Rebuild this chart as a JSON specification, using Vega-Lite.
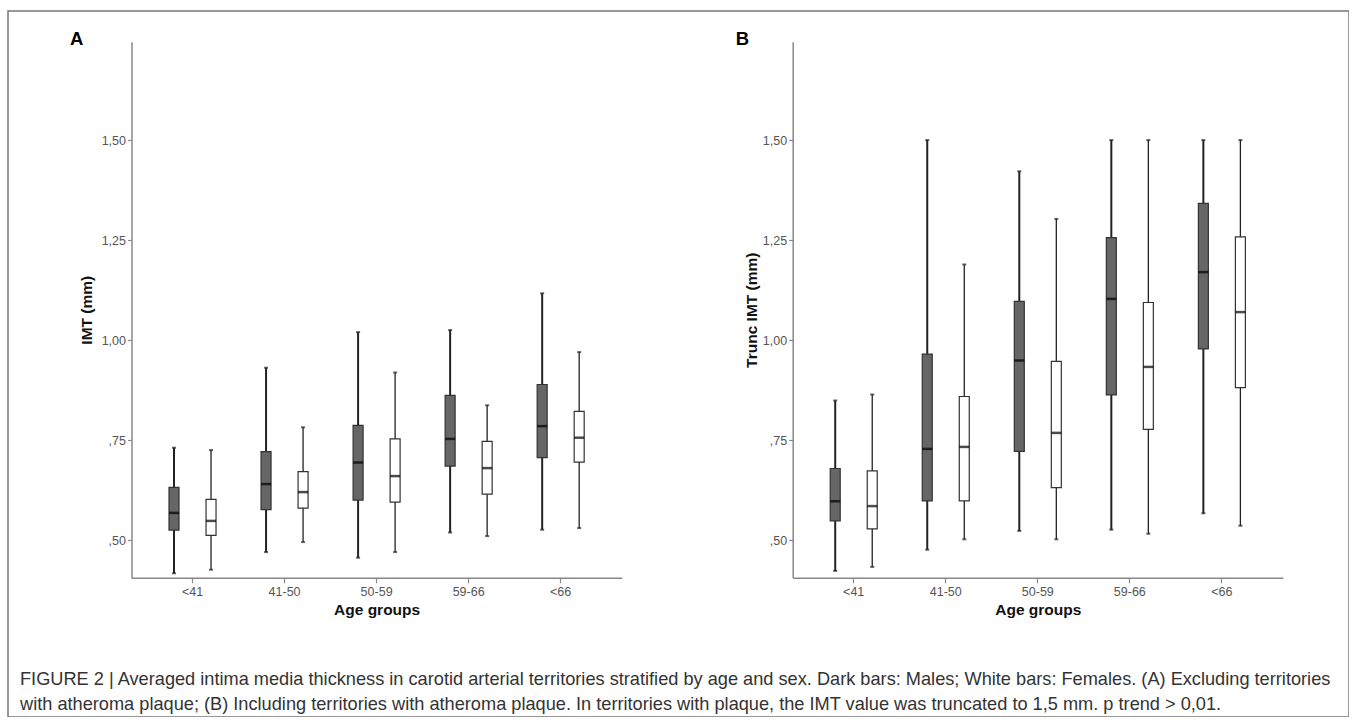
{
  "$schema": "https://vega.github.io/schema/vega-lite/v6.json",
  "padding": {"left": 8, "top": 11, "right": 0, "bottom": 0},
  "background": "white",
  "width": 1341,
  "height": 706,
  "view": {"stroke": "#777", "strokeWidth": 1.5},
  "config": {
    "font": "Liberation Sans",
    "axis": {
      "grid": false,
      "domainColor": "#888",
      "domainWidth": 1.5,
      "tickColor": "#888",
      "tickWidth": 1.2,
      "labelColor": "#555",
      "labelFontSize": 12.5,
      "labelFont": "Liberation Sans",
      "titleFont": "Liberation Sans",
      "titleFontWeight": "bold",
      "titleFontSize": 15.5,
      "titleColor": "#111"
    },
    "axisY": {"tickSize": 4, "labelPadding": 2, "titlePadding": 7},
    "axisX": {"tickSize": 5, "labelPadding": 3, "titlePadding": 4, "labelAngle": 0}
  },
  "title": {
    "text": [
      "FIGURE 2 | Averaged intima media thickness in carotid arterial territories stratified by age and sex. Dark bars: Males; White bars: Females. (A) Excluding territories",
      "with atheroma plaque; (B) Including territories with atheroma plaque. In territories with plaque, the IMT value was truncated to 1,5 mm. p trend > 0,01."
    ],
    "orient": "bottom",
    "anchor": "start",
    "frame": "group",
    "offset": -46,
    "dx": 12,
    "fontSize": 18.2,
    "fontWeight": "normal",
    "color": "#333",
    "lineHeight": 25,
    "font": "Liberation Sans"
  },
  "datasets": {
    "A": [
      {"group": "<41", "sex": "M", "low": 0.417, "q1": 0.525, "median": 0.568, "q3": 0.632, "high": 0.731},
      {"group": "<41", "sex": "F", "low": 0.426, "q1": 0.512, "median": 0.548, "q3": 0.602, "high": 0.725},
      {"group": "41-50", "sex": "M", "low": 0.470, "q1": 0.576, "median": 0.640, "q3": 0.721, "high": 0.931},
      {"group": "41-50", "sex": "F", "low": 0.495, "q1": 0.580, "median": 0.620, "q3": 0.671, "high": 0.782},
      {"group": "50-59", "sex": "M", "low": 0.456, "q1": 0.600, "median": 0.694, "q3": 0.787, "high": 1.020},
      {"group": "50-59", "sex": "F", "low": 0.470, "q1": 0.595, "median": 0.660, "q3": 0.753, "high": 0.919},
      {"group": "59-66", "sex": "M", "low": 0.519, "q1": 0.685, "median": 0.753, "q3": 0.862, "high": 1.025},
      {"group": "59-66", "sex": "F", "low": 0.510, "q1": 0.615, "median": 0.680, "q3": 0.747, "high": 0.837},
      {"group": "<66", "sex": "M", "low": 0.526, "q1": 0.706, "median": 0.785, "q3": 0.889, "high": 1.117},
      {"group": "<66", "sex": "F", "low": 0.530, "q1": 0.695, "median": 0.756, "q3": 0.822, "high": 0.970}
    ],
    "B": [
      {"group": "<41", "sex": "M", "low": 0.423, "q1": 0.548, "median": 0.597, "q3": 0.679, "high": 0.849},
      {"group": "<41", "sex": "F", "low": 0.433, "q1": 0.528, "median": 0.585, "q3": 0.673, "high": 0.864},
      {"group": "41-50", "sex": "M", "low": 0.476, "q1": 0.598, "median": 0.728, "q3": 0.965, "high": 1.50},
      {"group": "41-50", "sex": "F", "low": 0.502, "q1": 0.598, "median": 0.733, "q3": 0.859, "high": 1.189},
      {"group": "50-59", "sex": "M", "low": 0.523, "q1": 0.722, "median": 0.949, "q3": 1.097, "high": 1.422},
      {"group": "50-59", "sex": "F", "low": 0.502, "q1": 0.631, "median": 0.768, "q3": 0.947, "high": 1.303},
      {"group": "59-66", "sex": "M", "low": 0.526, "q1": 0.863, "median": 1.103, "q3": 1.256, "high": 1.50},
      {"group": "59-66", "sex": "F", "low": 0.516, "q1": 0.777, "median": 0.933, "q3": 1.094, "high": 1.50},
      {"group": "<66", "sex": "M", "low": 0.567, "q1": 0.978, "median": 1.170, "q3": 1.342, "high": 1.50},
      {"group": "<66", "sex": "F", "low": 0.536, "q1": 0.881, "median": 1.070, "q3": 1.258, "high": 1.50}
    ],
    "letters": [
      {"label": "A"},
      {"label": "B"}
    ]
  },
  "resolve": {
    "scale": {"x": "independent", "y": "independent", "xOffset": "independent"},
    "axis": {"x": "independent", "y": "independent"}
  },
  "layer": [
    {
      "data": {"name": "A"},
      "encoding": {
        "x": {"field": "group", "type": "nominal", "sort": ["<41", "41-50", "50-59", "59-66", "<66"], "scale": {"range": [123.5, 613.7], "paddingInner": 0, "paddingOuter": 0.163}, "axis": {"title": "Age groups", "orient": "bottom", "offset": -139.3}},
        "xOffset": {"field": "sex", "type": "nominal", "sort": ["M", "F"], "scale": {"paddingInner": 0.73, "paddingOuter": 0.608}}
      },
      "layer": [
        {
          "mark": {"type": "rule", "color": "#222"},
          "encoding": {
            "y": {"field": "low", "type": "quantitative", "title": "IMT (mm)", "scale": {"domain": [0.406, 1.746], "range": [566.7, 30.7], "nice": false, "zero": false}, "axis": {"orient": "left", "offset": -123.5, "values": [0.5, 0.75, 1, 1.25, 1.5], "labelExpr": "datum.value < 1 ? ',' + format(datum.value * 100, '.0f') : replace(format(datum.value, '.2f'), '.', ',')"}},
            "y2": {"field": "high"},
            "strokeWidth": {"field": "sex", "type": "nominal", "scale": {"domain": ["M", "F"], "range": [2, 1.3]}, "legend": null}
          }
        },
        {
          "mark": {"type": "bar", "stroke": "#333", "strokeWidth": 1.2},
          "encoding": {
            "y": {"field": "q1", "type": "quantitative", "title": "IMT (mm)"},
            "y2": {"field": "q3"},
            "fill": {"field": "sex", "type": "nominal", "scale": {"domain": ["M", "F"], "range": ["#666666", "#ffffff"]}, "legend": null}
          }
        },
        {
          "mark": {"type": "tick", "color": "#000", "size": 10, "thickness": 2.5},
          "encoding": {"y": {"field": "median", "type": "quantitative", "title": "IMT (mm)"}}
        },
        {
          "mark": {"type": "tick", "color": "#222", "size": 4, "thickness": 2},
          "encoding": {"y": {"field": "low", "type": "quantitative", "title": "IMT (mm)"}}
        },
        {
          "mark": {"type": "tick", "color": "#222", "size": 4, "thickness": 2},
          "encoding": {"y": {"field": "high", "type": "quantitative", "title": "IMT (mm)"}}
        }
      ]
    },
    {
      "data": {"name": "B"},
      "encoding": {
        "x": {"field": "group", "type": "nominal", "sort": ["<41", "41-50", "50-59", "59-66", "<66"], "scale": {"range": [784.7, 1274.9], "paddingInner": 0, "paddingOuter": 0.163}, "axis": {"title": "Age groups", "orient": "bottom", "offset": -139.3}},
        "xOffset": {"field": "sex", "type": "nominal", "sort": ["M", "F"], "scale": {"paddingInner": 0.73, "paddingOuter": 0.608}}
      },
      "layer": [
        {
          "mark": {"type": "rule", "color": "#222"},
          "encoding": {
            "y": {"field": "low", "type": "quantitative", "title": "Trunc IMT (mm)", "scale": {"domain": [0.406, 1.746], "range": [566.7, 30.7], "nice": false, "zero": false}, "axis": {"orient": "left", "offset": -784.7, "titlePadding": 3, "values": [0.5, 0.75, 1, 1.25, 1.5], "labelExpr": "datum.value < 1 ? ',' + format(datum.value * 100, '.0f') : replace(format(datum.value, '.2f'), '.', ',')"}},
            "y2": {"field": "high"},
            "strokeWidth": {"field": "sex", "type": "nominal", "scale": {"domain": ["M", "F"], "range": [2, 1.3]}, "legend": null}
          }
        },
        {
          "mark": {"type": "bar", "stroke": "#333", "strokeWidth": 1.2},
          "encoding": {
            "y": {"field": "q1", "type": "quantitative", "title": "Trunc IMT (mm)"},
            "y2": {"field": "q3"},
            "fill": {"field": "sex", "type": "nominal", "scale": {"domain": ["M", "F"], "range": ["#666666", "#ffffff"]}, "legend": null}
          }
        },
        {
          "mark": {"type": "tick", "color": "#000", "size": 10, "thickness": 2.5},
          "encoding": {"y": {"field": "median", "type": "quantitative", "title": "Trunc IMT (mm)"}}
        },
        {
          "mark": {"type": "tick", "color": "#222", "size": 4, "thickness": 2},
          "encoding": {"y": {"field": "low", "type": "quantitative", "title": "Trunc IMT (mm)"}}
        },
        {
          "mark": {"type": "tick", "color": "#222", "size": 4, "thickness": 2},
          "encoding": {"y": {"field": "high", "type": "quantitative", "title": "Trunc IMT (mm)"}}
        }
      ]
    },
    {
      "data": {"name": "letters"},
      "mark": {"type": "text", "align": "left", "baseline": "alphabetic", "fontSize": 18.5, "fontWeight": "bold", "color": "#000", "font": "Liberation Sans"},
      "encoding": {
        "text": {"field": "label", "type": "nominal"},
        "x": {"field": "label", "type": "nominal", "scale": {"type": "point", "domain": ["A", "B"], "range": [62, 727.7], "padding": 0}, "axis": null},
        "y": {"field": "label", "type": "nominal", "scale": {"type": "point", "domain": ["A", "B"], "range": [34, 34], "padding": 0}, "axis": null}
      }
    }
  ]
}
